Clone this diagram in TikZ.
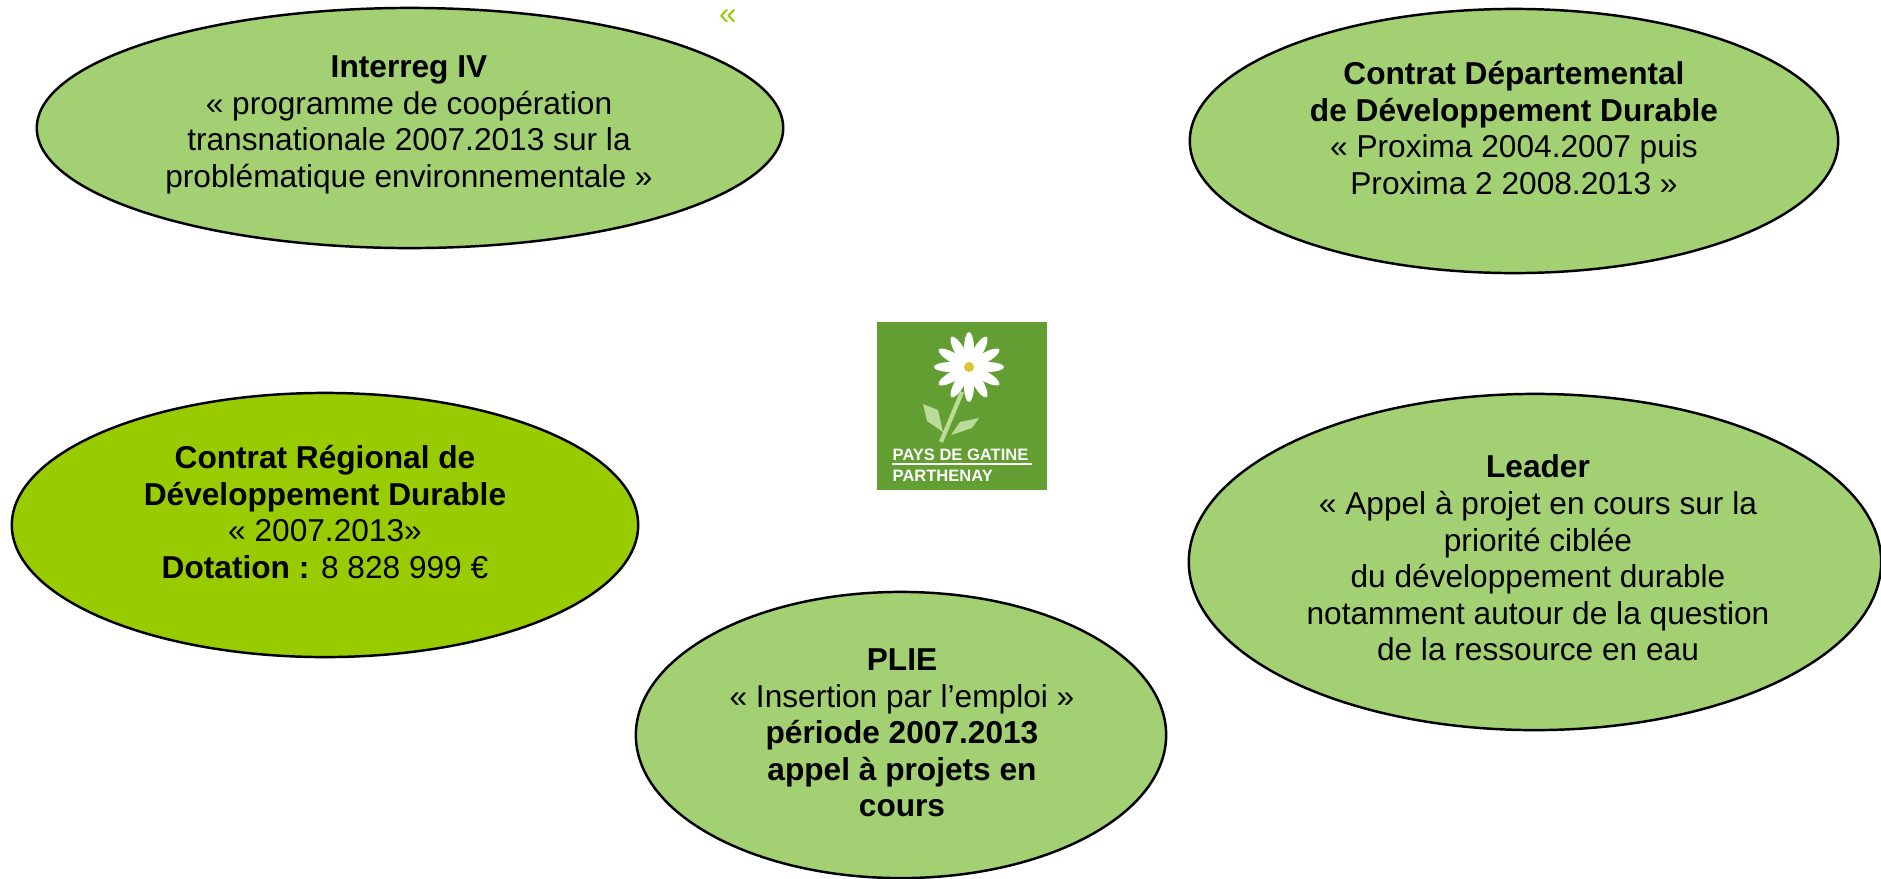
\documentclass[tikz,border=0pt]{standalone}
\usepackage{fontspec}
\setmainfont{Liberation Sans}
\definecolor{bubblegreen}{RGB}{162,208,114}
\definecolor{regiongreen}{RGB}{153,204,0}
\definecolor{logogreen}{RGB}{98,158,50}
\definecolor{leafgreen}{RGB}{186,220,152}
\definecolor{heartyellow}{RGB}{215,200,50}

\begin{document}
\begin{tikzpicture}[
        x = 0.01cm, y = -0.01cm,
        mbubble/.style = {draw = black, line width = 0.7pt, fill = bubblegreen},
        mtext/.style = {align = center, font = \fontsize{9pt}{10.4pt}\selectfont},
        mlogo/.style = {white, anchor = base west, inner sep = 0pt, font = \fontsize{4.7pt}{5.6pt}\selectfont\bfseries}
    ]
        \useasboundingbox (0,0) rectangle (1881,878);

        \draw[mbubble] (410,128) ellipse [x radius = 3.73cm, y radius = 1.20cm];
        \draw[mbubble] (1514,141) ellipse [x radius = 3.24cm, y radius = 1.32cm];
        \draw[mbubble, fill = regiongreen] (325,525) ellipse [x radius = 3.13cm, y radius = 1.32cm];
        \draw[mbubble] (1535,562) ellipse [x radius = 3.46cm, y radius = 1.68cm];
        \draw[mbubble] (901,735) ellipse [x radius = 2.65cm, y radius = 1.43cm];

        \node[mtext] (interreg) at (409,125) {\textbf{Interreg IV}\\« programme de coopération\\transnationale 2007.2013 sur la\\problématique environnementale »};
        \node[mtext] (departement) at (1514,128) {\textbf{Contrat Départemental}\\\textbf{de Développement Durable}\\« Proxima 2004.2007 puis\\Proxima 2 2008.2013 »};
        \node[mtext] (region) at (325,512) {\textbf{Contrat Régional de}\\\textbf{Développement Durable}\\« 2007.2013»\\\textbf{Dotation :} 8 828 999 €};
        \node[mtext] (leader) at (1538,558) {\textbf{Leader}\\« Appel à projet en cours sur la\\priorité ciblée\\du développement durable\\notamment autour de la question\\de la ressource en eau};
        \node[mtext] (plie) at (902,733) {\textbf{PLIE}\\« Insertion par l’emploi »\\\textbf{période 2007.2013}\\\textbf{appel à projets en}\\\textbf{cours}};

        \node[mtext, regiongreen] (quote) at (728,17) {«};

        \fill[logogreen] (877,322) rectangle (1047,490);
        \fill[leafgreen] (923,404) -- (938,410) -- (943,432) -- (927,421) -- cycle;
        \fill[leafgreen] (951,435) -- (960,422) -- (979,418) -- (972,428) -- cycle;
        \draw[leafgreen, line width = 1.2pt] (962,392) -- (941,442);
        \foreach \a in {0,30,...,330}
            \fill[white, rotate around = {\a:(969,367)}] (987,367) ellipse [x radius = 0.17cm, y radius = 0.05cm];
        \fill[heartyellow] (969,367) circle [radius = 0.05cm];
        \node[mlogo] (pays) at (892,460) {PAYS DE GATINE};
        \draw[white, line width = 0.3pt] (892,464) -- (1032,464);
        \node[mlogo] (parthenay) at (892,481) {PARTHENAY};
    \end{tikzpicture}
\end{document}
